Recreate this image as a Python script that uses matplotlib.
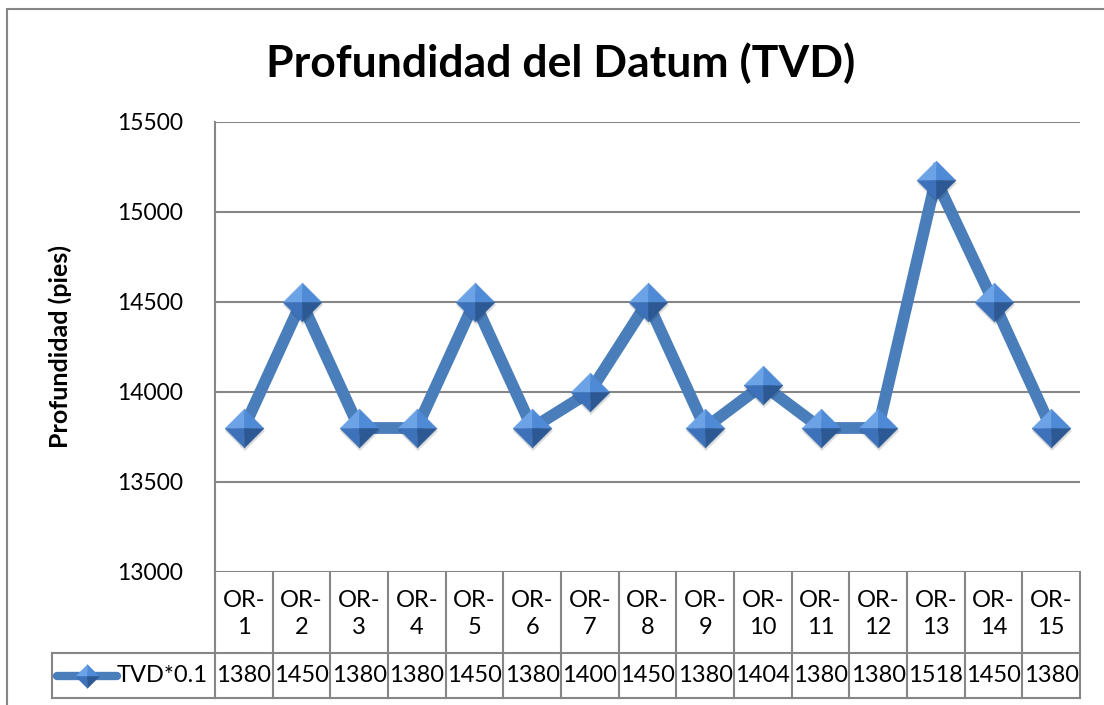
import matplotlib
matplotlib.use("Agg")
import matplotlib.pyplot as plt
from matplotlib.path import Path
from matplotlib.patches import Rectangle
import matplotlib.transforms as mtransforms

plt.rcParams['font.family'] = ['Lato', 'DejaVu Sans']

# data
pozos = ['OR-\n1', 'OR-\n2', 'OR-\n3', 'OR-\n4', 'OR-\n5', 'OR-\n6', 'OR-\n7', 'OR-\n8',
         'OR-\n9', 'OR-\n10', 'OR-\n11', 'OR-\n12', 'OR-\n13', 'OR-\n14', 'OR-\n15']
tvd_tabla = [1380, 1450, 1380, 1380, 1450, 1380, 1400, 1450, 1380, 1404, 1380, 1380, 1518, 1450, 1380]
tvd = [13800, 14500, 13800, 13800, 14500, 13800, 14000, 14500, 13800, 14040, 13800, 13800, 15180, 14500, 13800]
y_ticks = [13000, 13500, 14000, 14500, 15000, 15500]
serie = 'TVD*0.1'

W, H = 1104, 705
gris = '#868686'
azul = '#4A7EBB'
fs = 17

fig = plt.figure(figsize=(W / 100, H / 100), dpi=100)
fig.patch.set_facecolor('white')

# chart frame (cut at right and bottom like the screenshot)
fig.add_artist(Rectangle((7 / W, -0.05), 1.2, 1 - 9 / H + 0.05, transform=fig.transFigure,
                         fill=False, edgecolor=gris, lw=1.5))

L, R, T, B = 215, 1080, 122, 572
ax = fig.add_axes([L / W, 1 - B / H, (R - L) / W, (B - T) / H])
n = len(tvd)
xs = [i + 0.5 for i in range(n)]
ax.set_xlim(0, n)
ax.set_ylim(y_ticks[0], y_ticks[-1])
ax.set_yticks(y_ticks)
ax.set_yticklabels([str(v) for v in y_ticks], fontsize=16.5)
ax.tick_params(axis='y', length=0, pad=23)
ax.set_xticks([])
for s in ['top', 'right', 'bottom']:
    ax.spines[s].set_visible(False)
ax.spines['left'].set_color(gris)
ax.spines['left'].set_linewidth(1.5)
ax.grid(axis='y', color=gris, lw=1.5)
ax.set_axisbelow(True)
ax.set_ylabel('Profundidad (pies)', fontsize=18, fontweight='bold')
ax.yaxis.label.set_va('center')
ax.yaxis.set_label_coords((60 - L) / (R - L), 1 - (347 - T) / (B - T))

# diamond made of four shaded facets
caras = [
    ([(-1, 0), (0, 1), (0, 0), (-1, 0)], '#6BA3E6'),
    ([(0, 1), (1, 0), (0, 0), (0, 1)], '#4F8AD6'),
    ([(-1, 0), (0, 0), (0, -1), (-1, 0)], '#3D72BA'),
    ([(0, 0), (1, 0), (0, -1), (0, 0)], '#2C5893'),
]


def dibujar_rombo(axx, x, y, ms, **kw):
    for verts, c in caras:
        axx.plot(x, y, ls='none', marker=Path(verts), ms=ms, color=c, mec=c, mew=0.3, **kw)


ax.plot(xs, tvd, color=azul, lw=8.5, solid_joinstyle='miter', zorder=3)
ax.plot(xs, tvd, ls='none', marker='D', ms=20, color='#00000022', mew=0,
        transform=ax.transData + mtransforms.ScaledTranslation(1 / 100, -3 / 100, fig.dpi_scale_trans),
        zorder=3.5)
dibujar_rombo(ax, xs, tvd, 28, zorder=4)

fig.suptitle('Profundidad del Datum (TVD)', x=561 / W, y=1 - 63 / H, va='center',
             fontsize=32, fontweight='bold')

# data table below the plot
def ypx(p):
    return -(p - B) / (B - T)

trans = mtransforms.blended_transform_factory(ax.transData, ax.transAxes)
y_cab = ypx(653)
y_dat = ypx(698)
kw = dict(color=gris, lw=1.5, clip_on=False, transform=trans)
for i in range(n + 1):
    ax.plot([i, i], [0, y_dat], **kw)
ax.plot([0, n], [y_cab, y_cab], **kw)
ax.plot([0, n], [y_dat, y_dat], **kw)
xleg = (52 - L) / (R - L) * n
ax.plot([xleg, 0], [y_cab, y_cab], **kw)
ax.plot([xleg, 0], [y_dat, y_dat], **kw)
ax.plot([xleg, xleg], [y_cab, y_dat], **kw)

for i, (p, v) in enumerate(zip(pozos, tvd_tabla)):
    ax.text(i + 0.5, ypx(614), p, transform=trans, ha='center', va='center',
            fontsize=fs, linespacing=1.3, clip_on=False)
    ax.text(i + 0.5, ypx(676), str(v), transform=trans, ha='center', va='center',
            fontsize=fs, clip_on=False)

# legend key inside the table
x1 = (57 - L) / (R - L) * n
x2 = (117 - L) / (R - L) * n
xm = (87 - L) / (R - L) * n
ax.plot([x1, x2], [ypx(676)] * 2, color=azul, lw=6, solid_capstyle='round',
        transform=trans, clip_on=False, zorder=3)
dibujar_rombo(ax, [xm], [ypx(676)], 17, transform=trans, clip_on=False, zorder=4)
ax.text(x2, ypx(676), serie, transform=trans, ha='left', va='center',
        fontsize=fs, clip_on=False)

fig.savefig('out.png', dpi=100)
